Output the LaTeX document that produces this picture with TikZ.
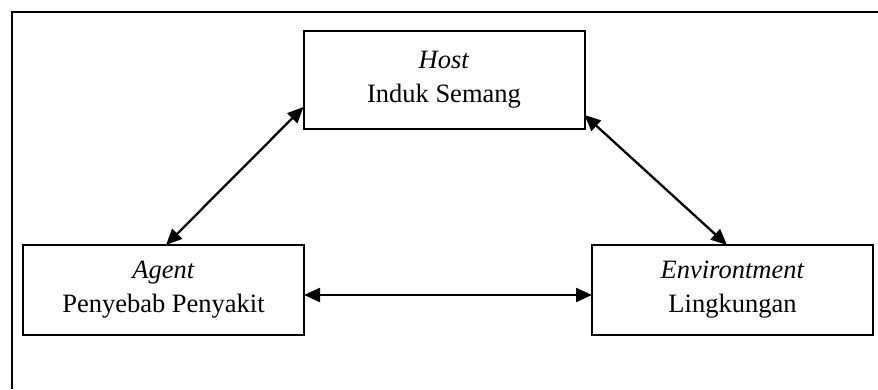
\documentclass[tikz,border=0pt]{standalone}
\usepackage{fontspec}
\setmainfont{Liberation Serif}
\usetikzlibrary{arrows.meta}
\begin{document}
\begin{tikzpicture}[x=1pt,y=-1pt,
  factor/.style={draw, line width=2pt, minimum width=281pt, inner sep=0pt,
    outer sep=0pt, align=center, font=\fontsize{26.5}{34}\selectfont},
  link/.style={line width=2.3pt, {Triangle[length=16pt,width=14pt]}-{Triangle[length=16pt,width=14pt]}},
  frame/.style={line width=2.5pt}]
  \useasboundingbox (0,0) rectangle (878,389);
  % open frame: top and left edges only
  \coordinate (ftop) at (878,12);
  \coordinate (fcorner) at (12,12);
  \coordinate (fbottom) at (12,389);
  \draw[frame] (ftop) -- (fcorner) -- (fbottom);

  \node[factor, minimum height=98pt] (host) at (444,80) {\textit{Host}\\Induk Semang};
  \node[factor, minimum height=90pt] (agent) at (163.5,290) {\textit{Agent}\\Penyebab Penyakit};
  \node[factor, minimum height=90pt] (env) at (732.5,290) {\textit{Environtment}\\Lingkungan};

  \draw[link] ([xshift=2.5pt]agent.north) -- ([yshift=-27pt]host.west);
  \draw[link] ([yshift=-35pt]host.east) -- ([xshift=-5.5pt]env.north);
  \draw[link] ([yshift=-5pt]agent.east) -- ([yshift=-5pt]env.west);
\end{tikzpicture}
\end{document}
